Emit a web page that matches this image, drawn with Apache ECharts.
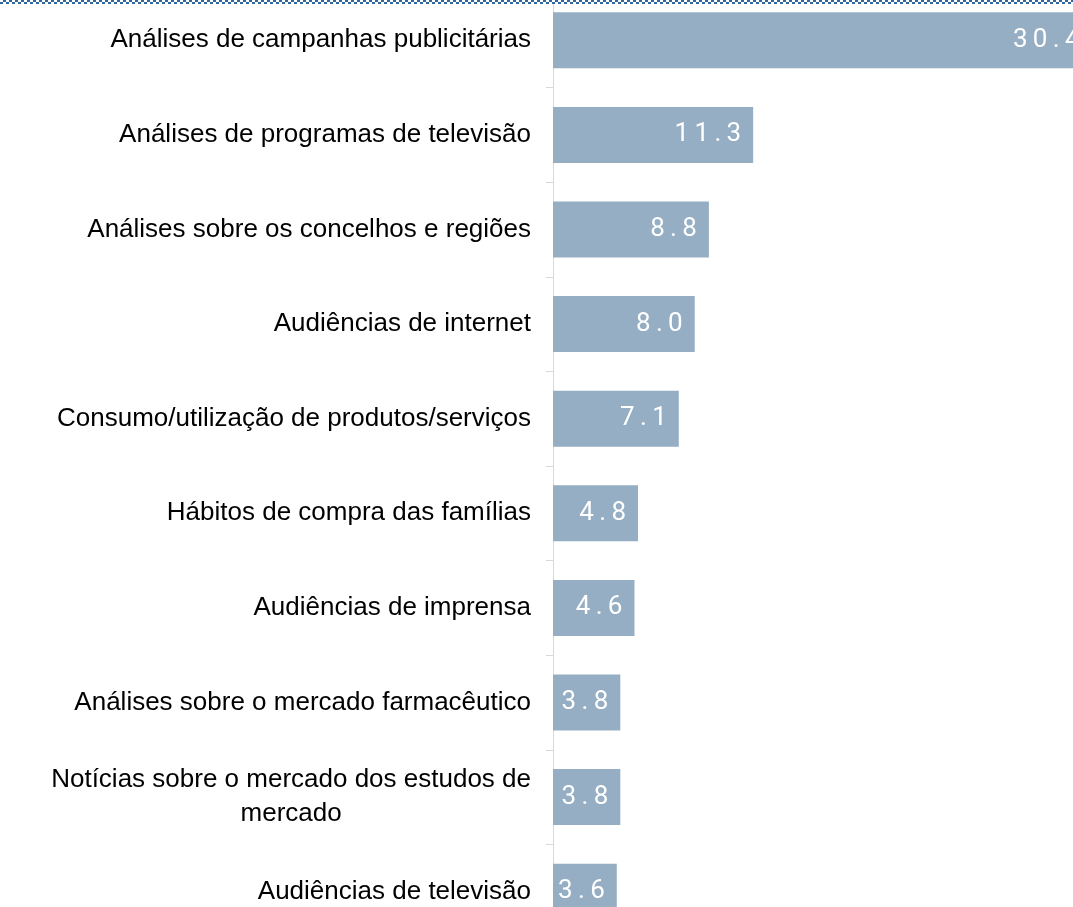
<!DOCTYPE html>
<html>
<head>
<meta charset="utf-8">
<script src="https://cdn.jsdelivr.net/npm/echarts@6/dist/echarts.min.js"></script>
<style>
    html, body {margin: 0; padding: 0; background: #fff; overflow: hidden;}
    .wrap {position: relative; width: 1073px; height: 907px; overflow: hidden;}
    #chart {position: absolute; left: 0; top: -7px; width: 1173px; height: 946px;}
    .topBorder {
        position: absolute; left: 0; top: 0; width: 1073px; height: 4px; z-index: 2;
        background-image: repeating-conic-gradient(#2f67a0 0 25%, #ffffff 0 50%);
        background-size: 6px 4px;
    }
</style>
</head>
<body>
<div class="wrap">
    <div id="chart"></div>
    <div class="topBorder"></div>
</div>
<script>
    // categorias (de cima para baixo) e valores em %
    const categories = [
        'Análises de campanhas publicitárias',
        'Análises de programas de televisão',
        'Análises sobre os concelhos e regiões',
        'Audiências de internet',
        'Consumo/utilização de produtos/serviços',
        'Hábitos de compra das famílias',
        'Audiências de imprensa',
        'Análises sobre o mercado farmacêutico',
        'Notícias sobre o mercado dos estudos de mercado',
        'Audiências de televisão'
    ];
    const values = [30.4, 11.3, 8.8, 8.0, 7.1, 4.8, 4.6, 3.8, 3.8, 3.6];

    // quebra o texto em linhas de no máximo 40 caracteres
    let wrapLabel = (text) => {
        let words = text.split(' ');
        let lines = [];
        let cur = '';
        words.forEach(w => {
            if (cur && (cur + ' ' + w).length > 40) {
                lines.push(cur);
                cur = w;
            } else {
                cur = cur ? cur + ' ' + w : w;
            }
        });
        lines.push(cur);
        return lines.map(l => `{c|${l}}`).join('\n');
    };

    let myChart = echarts.init(document.getElementById('chart'));
    let option = {
        animation: false,
        grid: {left: 553, right: 0, top: 0, bottom: 0},
        xAxis: {
            type: 'value',
            min: 0,
            max: 35,
            show: false
        },
        yAxis: {
            type: 'category',
            inverse: true,
            data: categories,
            axisLine: {show: true, lineStyle: {color: '#d9d9d9', width: 1}},
            axisTick: {show: true, length: 7, lineStyle: {color: '#d9d9d9'}},
            axisLabel: {
                margin: 22,
                color: '#000',
                fontFamily: 'Liberation Sans',
                fontSize: 26,
                lineHeight: 34,
                formatter: (val) => wrapLabel(val),
                rich: {
                    c: {
                        align: 'center',
                        color: '#000',
                        fontFamily: 'Liberation Sans',
                        fontSize: 26,
                        lineHeight: 34
                    }
                }
            }
        },
        series: [{
            type: 'bar',
            data: values,
            barWidth: 56,
            itemStyle: {color: '#95aec4'},
            label: {
                show: true,
                position: 'insideRight',
                distance: 12,
                color: '#fff',
                fontFamily: 'Roboto',
                fontSize: 26,
                formatter: (p) => p.value.toFixed(1).split('').join('\u2009')
            }
        }]
    };
    myChart.setOption(option);
</script>
</body>
</html>
